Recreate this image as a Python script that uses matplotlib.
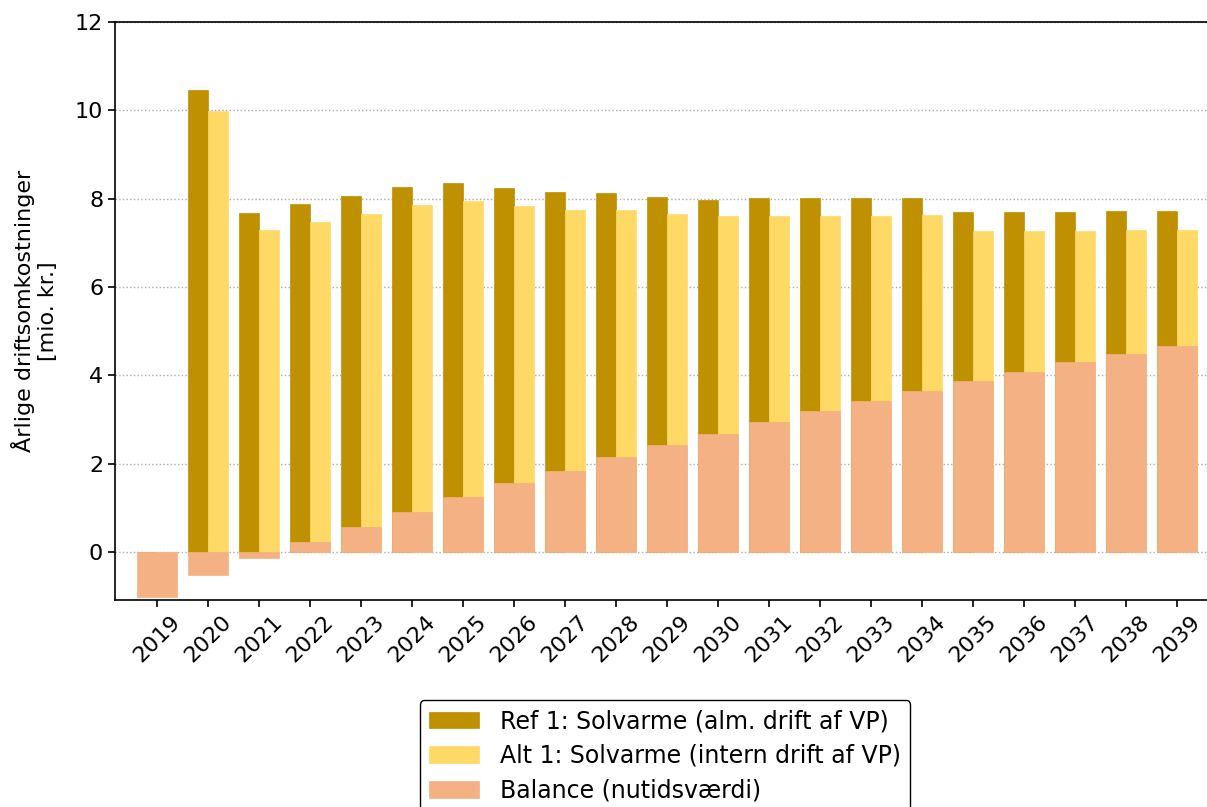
import numpy as np
import matplotlib
matplotlib.use("Agg")
import matplotlib.pyplot as plt

# data
years = [str(y) for y in range(2019, 2040)]
ref = [0.0, 10.46, 7.67, 7.88, 8.06, 8.26, 8.36, 8.24, 8.15, 8.13, 8.04,
       7.97, 8.02, 8.02, 8.02, 8.02, 7.70, 7.70, 7.70, 7.72, 7.72]
alt = [0.0, 9.98, 7.29, 7.47, 7.65, 7.86, 7.95, 7.83, 7.74, 7.74, 7.65,
       7.60, 7.60, 7.60, 7.60, 7.63, 7.27, 7.27, 7.27, 7.29, 7.29]
balance = [-1.02, -0.52, -0.15, 0.22, 0.57, 0.91, 1.25, 1.55, 1.84, 2.15, 2.42,
           2.68, 2.93, 3.18, 3.42, 3.65, 3.88, 4.08, 4.29, 4.47, 4.66]

labels = ["Ref 1: Solvarme (alm. drift af VP)",
          "Alt 1: Solvarme (intern drift af VP)",
          "Balance (nutidsværdi)"]
colors = ["#BF9000", "#FFD966", "#F4B183"]

fig = plt.figure(figsize=(12.07, 8.07), dpi=100)
ax = fig.add_axes([115 / 1207, 1 - 600 / 807, 1104 / 1207, 578 / 807])

x = np.arange(len(years))
w = 0.4
ax.bar(x - w / 2, ref, width=w, color=colors[0], edgecolor=colors[0], lw=0.5, label=labels[0], zorder=2)
ax.bar(x + w / 2, alt, width=w, color=colors[1], edgecolor=colors[1], lw=0.5, label=labels[1], zorder=2)
ax.bar(x, balance, width=2 * w, color=colors[2], edgecolor=colors[2], lw=0.5, label=labels[2], zorder=3)

ax.set_xlim(-0.824, len(years) - 1 + 0.824)
ax.set_ylim(-1.09, 12)
ax.set_yticks(range(0, 13, 2))
ax.set_xticks(x)
ax.set_xticklabels(years, rotation=45)
ax.tick_params(labelsize=16, width=1.2, length=5)
for s in ax.spines.values():
    s.set_linewidth(1.2)
ax.spines["right"].set_visible(False)
ax.set_ylabel("Årlige driftsomkostninger\n[mio. kr.]", fontsize=16, labelpad=12)
ax.grid(axis="y", linestyle=":", color="#aaaaaa", lw=1, zorder=0)
ax.set_axisbelow(True)

fig.legend(loc="upper center", bbox_to_anchor=(665 / 1207, 1 - 688 / 807),
           fontsize=17, labelspacing=0.45, handlelength=2.1, handletextpad=0.9,
           fancybox=True, edgecolor="black", framealpha=1)

fig.savefig("out.png", dpi=100)
